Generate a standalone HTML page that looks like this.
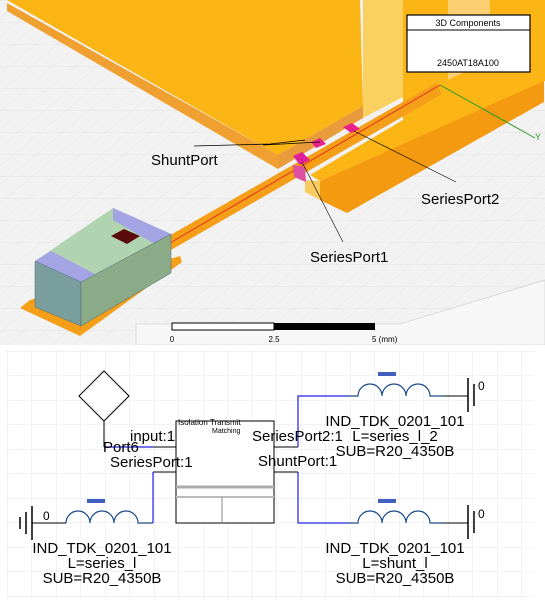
<!DOCTYPE html>
<html><head><meta charset="utf-8"><style>
html,body{margin:0;padding:0;background:#fff;}
svg{display:block;font-family:"Liberation Sans",sans-serif;}
</style></head><body>
<svg width="545" height="611" viewBox="0 0 545 611">
<defs>
<pattern id="g3d" width="22" height="22" patternUnits="userSpaceOnUse" patternTransform="skewX(-50)">
<path d="M22 0H0V22" fill="none" stroke="#dcdcdc" stroke-width="0.7"/></pattern>
<pattern id="gsch" width="24.5" height="24.5" patternUnits="userSpaceOnUse" x="7" y="8">
<path d="M24.5 0H0V24.5" fill="none" stroke="#e4e4f4" stroke-width="1"/></pattern>
</defs>
<g>
<rect x="0" y="0" width="545" height="345" fill="#f2f2f2"/>
<rect x="0" y="0" width="545" height="345" fill="url(#g3d)"/>
<polygon points="136,345 136,324 400,324 545,280 545,345" fill="#f7f7f7" stroke="#c8c8c8" stroke-width="0.6"/>
<polygon points="7,0 360,0 363,106 278,155" fill="#fbb514"/>
<polygon points="7,3 278,155 278,169 7,11" fill="#f0a030"/>
<polygon points="278,155 363,106 363,118 278,169" fill="#e99a3a"/>
<polygon points="363,0 403,0 403,97 363,118" fill="#fad060"/>
<polygon points="403,0 545,0 545,81 320,181 310,175 403,120" fill="#fbb514"/>
<polygon points="448,0 490,0 490,60 448,80" fill="#fcd070"/>
<polygon points="320,181 544,81 544,102 347,213 320,200" fill="#f39a10"/>
<polygon points="305,180 320,181 320,200 305,192" fill="#f8cc60"/>
<polygon points="167,237 436,83 442,94 171,250" fill="#f59e18"/>
<line x1="170" y1="243" x2="440" y2="85" stroke="#e53020" stroke-width="1"/>
<line x1="440" y1="85" x2="535" y2="138" stroke="#2a9a2a" stroke-width="1"/>
<text x="535" y="140" font-size="9" fill="#2a9a2a">Y</text>
<polygon points="311,142 320,138 326,144 316,148" fill="#e8208a"/>
<polygon points="343,127 352,123 360,129 351,133" fill="#e8208a"/>
<polygon points="293,156 302,152 310,160 300,165" fill="#e0209a"/>
<polygon points="293,165 305,167 306,182 294,177" fill="#e050a0"/>
<polygon points="20,308 30,300 180,256 182,262 80,336" fill="#f59e18"/>
<polygon points="35,261 113,208 171,234 81,282" fill="#b0d4b0"/>
<polygon points="35,261 51,251 95,274 81,282" fill="#a4a4e4"/>
<polygon points="113,208 129,215 171,234 155,244 113,220" fill="#a4a4e4"/>
<polygon points="35,261 81,282 81,326 35,307" fill="#7a9e9e" stroke="#4a6a7a" stroke-width="0.5"/>
<polygon points="81,282 171,234 171,273 81,326" fill="#8aaa88" stroke="#4a6a7a" stroke-width="0.5"/>
<polygon points="111,236 124,229 140,236 127,244" fill="#5a0a0a"/>
<path d="M194,146 L270,144 L305,140 M263,145 L320,142" stroke="#000" stroke-width="0.8" fill="none"/>
<line x1="354" y1="131" x2="456" y2="182" stroke="#000" stroke-width="0.6"/>
<line x1="302" y1="162" x2="343" y2="242" stroke="#000" stroke-width="0.6"/>
<text x="151" y="165" font-size="15">ShuntPort</text>
<text x="421" y="204" font-size="15">SeriesPort2</text>
<text x="310" y="262" font-size="15">SeriesPort1</text>
<g>
<rect x="407" y="15" width="123" height="57" fill="#fff" stroke="#000" stroke-width="1.2"/>
<line x1="407" y1="30" x2="530" y2="30" stroke="#000" stroke-width="1"/>
<text x="468" y="26" font-size="9" text-anchor="middle">3D Components</text>
<text x="468" y="66" font-size="9" text-anchor="middle">2450AT18A100</text>
</g>
<g>
<rect x="172" y="323" width="102" height="7" fill="#fff" stroke="#000" stroke-width="1"/>
<rect x="274" y="323" width="101" height="7" fill="#000"/>
<text x="172" y="342" font-size="8" text-anchor="middle">0</text>
<text x="274" y="342" font-size="8" text-anchor="middle">2.5</text>
<text x="372" y="342" font-size="8">5 (mm)</text>
</g>
</g>
<g>
<rect x="0" y="345" width="545" height="266" fill="#fff"/>
<rect x="7" y="349" width="527" height="250" fill="url(#gsch)"/>
<polygon points="104,371 129,396 104,421 79,396" fill="#fff" stroke="#000" stroke-width="1"/>
<line x1="104" y1="421" x2="104" y2="447" stroke="#000"/>
<line x1="104" y1="447" x2="153" y2="447" stroke="#2020e0" stroke-width="1.2"/>
<line x1="153" y1="447" x2="176" y2="447" stroke="#000"/>
<line x1="153" y1="472" x2="176" y2="472" stroke="#000"/>
<line x1="153" y1="472" x2="153" y2="523" stroke="#2020e0" stroke-width="1.2"/>
<rect x="176" y="421" width="98" height="102" fill="#fff" stroke="#000" stroke-width="1"/>
<text x="178" y="425" font-size="8">Isolation Transmit</text>
<text x="212" y="433" font-size="7">Matching</text>
<line x1="176" y1="487" x2="274" y2="487" stroke="#aaa" stroke-width="3"/>
<line x1="176" y1="497" x2="274" y2="497" stroke="#bbb" stroke-width="2"/>
<line x1="222" y1="497" x2="222" y2="523" stroke="#888"/>
<line x1="274" y1="447" x2="298" y2="447" stroke="#000"/>
<line x1="274" y1="472" x2="298" y2="472" stroke="#000"/>
<path d="M298,447 V396 H348" stroke="#2020e0" stroke-width="1.2" fill="none"/>
<path d="M298,472 V523 H348" stroke="#2020e0" stroke-width="1.2" fill="none"/>
<path d="M348,396 h10 a12,12 0 0 1 24,0 a12,12 0 0 1 24,0 a12,12 0 0 1 24,0 h14" stroke="#1a4a8a" stroke-width="1.2" fill="none"/>
<path d="M348,523 h10 a12,12 0 0 1 24,0 a12,12 0 0 1 24,0 a12,12 0 0 1 24,0 h14" stroke="#1a4a8a" stroke-width="1.2" fill="none"/>
<path d="M66,523 a12,12 0 0 1 24,0 a12,12 0 0 1 24,0 a12,12 0 0 1 24,0 h15" stroke="#1a4a8a" stroke-width="1.2" fill="none"/>
<line x1="444" y1="396" x2="468" y2="396" stroke="#000"/>
<line x1="444" y1="523" x2="468" y2="523" stroke="#000"/>
<line x1="32" y1="523" x2="66" y2="523" stroke="#000"/>
<g stroke="#000" stroke-width="1.5">
<line x1="468" y1="378" x2="468" y2="412"/><line x1="474" y1="384" x2="474" y2="406"/>
<line x1="468" y1="505" x2="468" y2="539"/><line x1="474" y1="511" x2="474" y2="533"/>
<line x1="32" y1="506" x2="32" y2="540"/><line x1="26" y1="512" x2="26" y2="534"/><line x1="20" y1="517" x2="20" y2="529"/>
</g>
<g font-size="12" fill="#000">
<text x="478" y="390">0</text><text x="478" y="518">0</text><text x="43" y="520">0</text>
</g>
<g font-size="15" fill="#000">
<text x="130" y="441">input:1</text>
<text x="103" y="452">Port6</text>
<text x="110" y="467">SeriesPort:1</text>
<text x="252" y="441">SeriesPort2:1</text>
<text x="258" y="466">ShuntPort:1</text>
</g>
<g font-size="15" fill="#000" text-anchor="middle">
<text x="395" y="426">IND_TDK_0201_101</text>
<text x="395" y="441">L=series_l_2</text>
<text x="395" y="456">SUB=R20_4350B</text>
<text x="102" y="553">IND_TDK_0201_101</text>
<text x="102" y="568">L=series_l</text>
<text x="102" y="583">SUB=R20_4350B</text>
<text x="395" y="553">IND_TDK_0201_101</text>
<text x="395" y="568">L=shunt_l</text>
<text x="395" y="583">SUB=R20_4350B</text>
</g>
<g fill="#4060c0">
<rect x="378" y="372" width="18" height="4"/><rect x="378" y="499" width="18" height="4"/><rect x="87" y="499" width="18" height="4"/>
</g>
</g>
</svg>
</body></html>
